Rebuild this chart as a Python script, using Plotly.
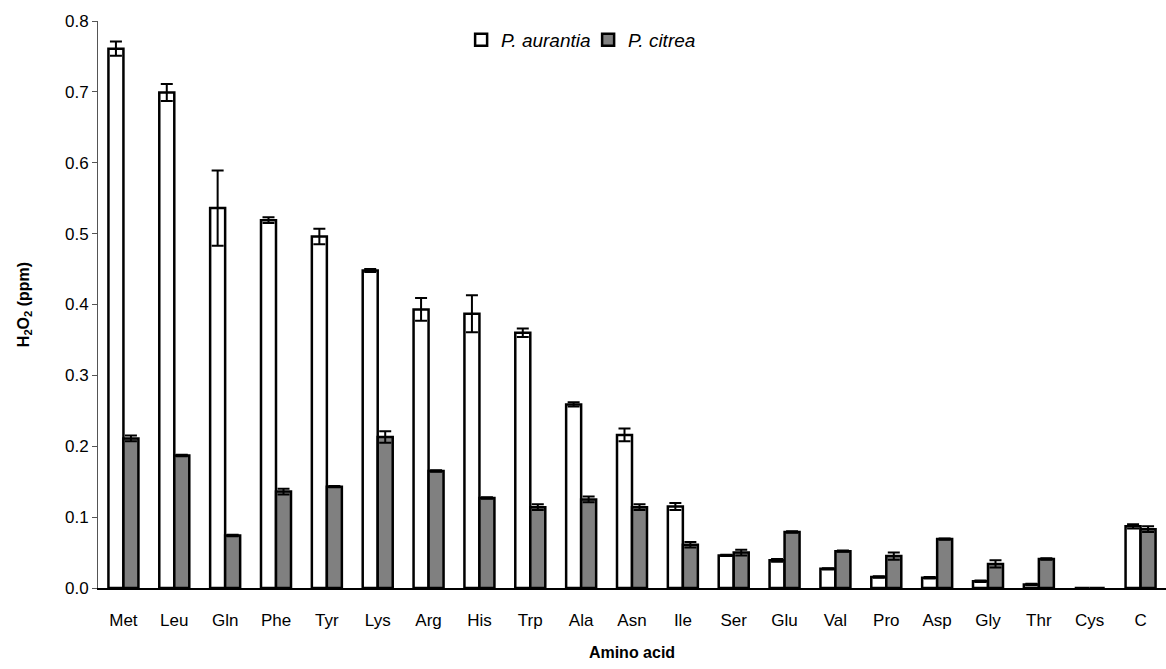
import plotly.graph_objects as go

categories = ["Met", "Leu", "Gln", "Phe", "Tyr", "Lys", "Arg", "His", "Trp", "Ala", "Asn",
              "Ile", "Ser", "Glu", "Val", "Pro", "Asp", "Gly", "Thr", "Cys", "C"]
aurantia = [0.761, 0.699, 0.536, 0.519, 0.496, 0.448, 0.393, 0.387, 0.360, 0.259, 0.216,
            0.115, 0.046, 0.039, 0.027, 0.0155, 0.0145, 0.0095, 0.005, 0.0, 0.087]
aurantia_err = [0.010, 0.012, 0.053, 0.004, 0.011, 0.002, 0.016, 0.026, 0.006, 0.003, 0.009,
                0.005, 0.001, 0.002, 0.001, 0.001, 0.001, 0.001, 0.001, 0.0, 0.003]
citrea = [0.211, 0.187, 0.074, 0.136, 0.143, 0.213, 0.165, 0.127, 0.114, 0.125, 0.114,
          0.061, 0.050, 0.079, 0.052, 0.045, 0.069, 0.034, 0.041, 0.0, 0.083]
citrea_err = [0.004, 0.001, 0.001, 0.004, 0.001, 0.008, 0.001, 0.001, 0.004, 0.004, 0.004,
              0.004, 0.004, 0.001, 0.001, 0.005, 0.001, 0.005, 0.001, 0.0, 0.004]
y_ticks = [0.0, 0.1, 0.2, 0.3, 0.4, 0.5, 0.6, 0.7, 0.8]

fig = go.Figure()
fig.add_trace(go.Bar(
    x=categories, y=aurantia, name="P. aurantia",
    marker=dict(color="white", line=dict(color="black", width=2.5)),
    error_y=dict(type="data", array=aurantia_err, color="black", thickness=2, width=6),
))
fig.add_trace(go.Bar(
    x=categories, y=citrea, name="P. citrea",
    marker=dict(color="#808080", line=dict(color="black", width=2.5)),
    error_y=dict(type="data", array=citrea_err, color="black", thickness=2, width=6),
))

fig.update_layout(
    width=1166, height=669,
    margin=dict(l=98, r=0, t=21, b=81, autoexpand=False),
    paper_bgcolor="white", plot_bgcolor="white",
    barmode="group", bargap=0.41, bargroupgap=0,
    font=dict(family="Liberation Sans, Arial, sans-serif", size=17, color="black"),
    showlegend=True,
    legend=dict(orientation="h", x=0.34, xanchor="left", y=1.0, yanchor="top",
                font=dict(size=19, style="italic"), bgcolor="rgba(0,0,0,0)",
                itemwidth=30, entrywidth=82, entrywidthmode="pixels", tracegroupgap=0),
)
fig.update_xaxes(
    showline=True, linecolor="black", linewidth=1.5, ticks="", showgrid=False,
    ticklabelstandoff=16,
    title=dict(text="<b>Amino acid</b>", font=dict(size=16), standoff=18),
)
fig.update_yaxes(
    range=[0, 0.8], tickvals=y_ticks, tickformat=".1f",
    showline=True, linecolor="#555555", linewidth=1, ticks="outside", ticklen=5,
    tickcolor="#555555", showgrid=False, zeroline=False,
    title=dict(text="<b>H<sub>2</sub>O<sub>2</sub> (ppm)</b>", font=dict(size=16), standoff=31),
)

fig.write_html("out.html")
